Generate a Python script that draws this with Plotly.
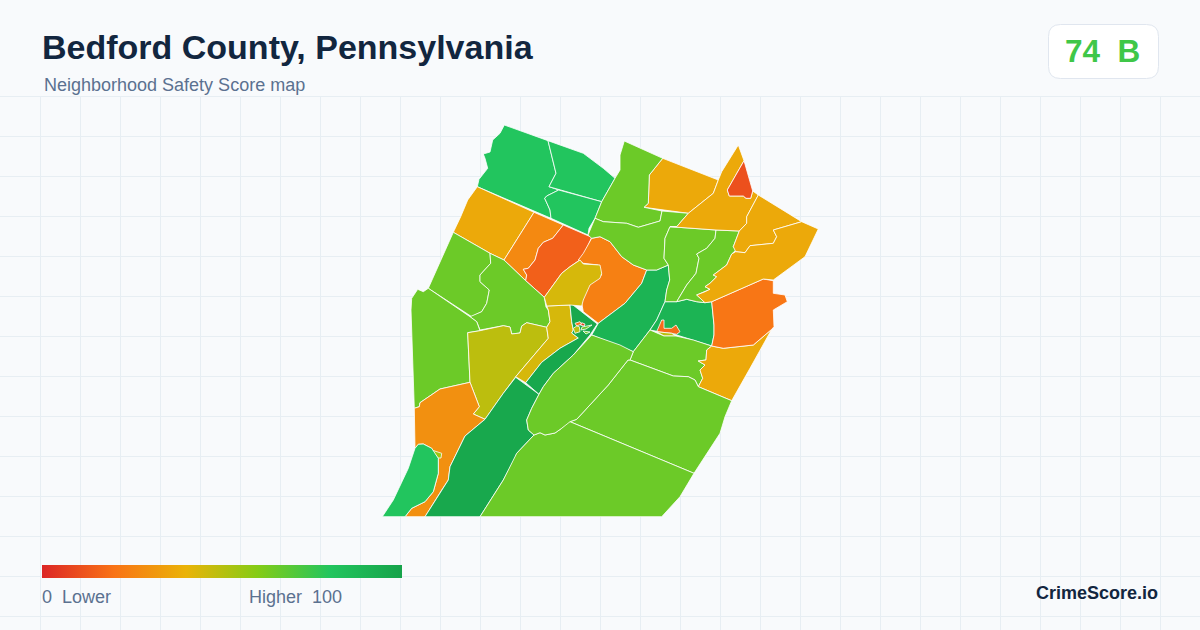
import plotly.graph_objects as go

title = "Bedford County, Pennsylvania"
subtitle = "Neighborhood Safety Score map"
score_text = "74  B"
brand = "CrimeScore.io"

legend_range = [0, 100]
score_stops = [0, 20, 40, 60, 80, 100]
score_colors = [(220, 38, 38), (249, 115, 22), (234, 179, 8), (132, 204, 22), (34, 197, 94), (22, 163, 74)]

grid_x = [0.5 + 40 * i for i in range(30)]
grid_y = [96.5 + 40 * i for i in range(14)]

# map outlines, x and y per tract with its score
tract_01_x = [504.3, 548, 556, 549, 558.7, 546.7, 544.7, 550, 551, 477.3, 479, 487.7, 485, 483.3, 490, 492.7, 500]
tract_01_y = [125, 140.7, 173.3, 186.7, 190, 196, 198.3, 210, 218.3, 186.7, 179.3, 168.3, 158.3, 154, 152, 140, 133.3]
tract_02_x = [548, 576.7, 583.3, 603.3, 615, 601.7, 558.7, 549, 556]
tract_02_y = [140.7, 150.7, 153.3, 168.3, 178.3, 201.7, 190, 186.7, 173.3]
tract_03_x = [558.7, 601.7, 595, 589, 588, 551, 550, 544.7, 546.7]
tract_03_y = [190, 201.7, 218.3, 228.3, 235, 218.3, 210, 198.3, 196]
tract_04_x = [477.3, 534, 504, 490, 453.3, 460.7, 467.7]
tract_04_y = [186.7, 212.3, 260, 253.3, 232.3, 216.7, 200]
tract_05_x = [534, 563.3, 552.7, 543.3, 538.3, 535, 528.3, 523.3, 526.7, 525.7, 504]
tract_05_y = [212.3, 225, 238.3, 242.3, 248.3, 260, 268.3, 269.3, 275, 280.7, 260]
tract_06_x = [563.3, 591.7, 582.3, 570, 561.7, 544.3, 525.7, 526.7, 523.3, 528.3, 535, 538.3, 543.3, 552.7]
tract_06_y = [225, 237.3, 258.3, 266.7, 273.3, 297.3, 280.7, 275, 269.3, 268.3, 260, 248.3, 242.3, 238.3]
tract_07_x = [453.3, 490, 490.7, 480, 480, 489.3, 486.7, 481.7, 471.7, 428.3]
tract_07_y = [232.3, 253.3, 263.3, 275, 281.7, 290, 303.3, 311.7, 316.7, 288.3]
tract_08_x = [490, 504, 525.7, 544.3, 546, 548.3, 550, 546.7, 526.7, 521.7, 520, 511.7, 510, 503.3, 480, 476.7, 470, 481.7, 486.7, 489.3, 480, 480, 490.7]
tract_08_y = [253.3, 260, 280.7, 297.3, 307, 310, 321.7, 327.3, 322.7, 326, 333, 334, 327, 325.7, 330, 321.7, 316.7, 311.7, 303.3, 290, 281.7, 275, 263.3]
tract_09_x = [428.3, 423.3, 417.7, 411.7, 411, 412.7, 414.3, 419.3, 420, 440, 470, 467.7, 480, 476.7, 470]
tract_09_y = [288.3, 291.7, 289.3, 298.3, 310, 353, 408.3, 406.7, 402.7, 389, 382.3, 332.7, 330.7, 321.7, 316.7]
tract_10_x = [467.7, 480, 503.3, 510, 511.7, 520, 521.7, 526.7, 546.7, 548.3, 515.7, 503.3, 485, 473.3, 479.3, 470]
tract_10_y = [332.7, 330.7, 325.7, 327, 334, 333, 326, 322.7, 327.3, 338.3, 376.7, 393.3, 419.3, 414, 406.7, 382.3]
tract_11_x = [414.3, 419.3, 420, 440, 470, 479.3, 473.3, 485, 465, 455, 450, 448.3, 441.7, 425, 405, 411.7, 425, 433.3, 438.3, 438.3, 431.7, 423.3, 418.3, 415]
tract_11_y = [408.3, 406.7, 402.7, 389, 382.3, 406.7, 414, 419.3, 436, 456.7, 466.7, 480, 490, 516.7, 516.7, 508.3, 501.7, 491.7, 473.3, 458.3, 448.3, 444, 444.3, 448.3]
tract_12_x = [431.7, 441.7, 441, 438]
tract_12_y = [450, 453.3, 458, 458]
tract_13_x = [415, 408.3, 393.3, 382.3, 405, 411.7, 425, 433.3, 438.3, 438.3, 431.7, 423.3, 418.3]
tract_13_y = [448.3, 468.3, 500, 516.7, 516.7, 508.3, 501.7, 491.7, 473.3, 458.3, 448.3, 444, 444.3]
tract_14_x = [515.7, 539, 531.7, 526.7, 528.3, 534, 516.7, 515, 503.3, 480, 425, 441.7, 448.3, 450, 455, 465, 485, 503.3]
tract_14_y = [377.3, 394.3, 408.3, 420, 430, 435, 453.3, 458.3, 480, 516.7, 516.7, 490, 480, 466.7, 456.7, 436, 419.3, 393.3]
tract_15_x = [546.7, 570, 571.7, 573.3, 571.7, 578.3, 560, 541.7, 525.7, 515.7, 548.3, 546.7, 550, 548.3]
tract_15_y = [306, 305, 321.7, 330, 333, 338, 348.3, 362.3, 382.7, 376.7, 338.3, 327.3, 321.7, 310]
tract_16_x = [525.7, 541.7, 560, 578.3, 571.7, 573.3, 571.7, 570, 571.7, 597.3, 590, 573.3, 553.3, 543.3, 539]
tract_16_y = [382.7, 362.3, 348.3, 338, 333, 330, 321.7, 305, 304, 324, 335, 355, 373.3, 386.7, 394.3]
tract_17_x = [575, 580, 581.7, 576.7]
tract_17_y = [323.3, 321.7, 324, 326]
tract_18_x = [581.7, 585, 584.3, 580.7]
tract_18_y = [322.7, 324, 326, 325.3]
tract_19_x = [573.3, 576.7, 579.3, 580, 575]
tract_19_y = [328.3, 326, 326.7, 331.7, 333.3]
tract_20_x = [591.7, 600, 610, 621.7, 633.3, 646.7, 641.7, 625, 598.3, 583.3, 581.7, 585, 591.7, 601.7, 598.3, 583.3, 578.3, 583.3]
tract_20_y = [238.3, 236.7, 241.7, 256.7, 265, 270, 283.3, 303.3, 323.3, 311.7, 303.3, 290, 280, 275, 265, 263.3, 260, 253.3]
tract_21_x = [580, 583.3, 600, 601.7, 600, 590, 583.3, 581.7, 570, 546.7, 544.3, 561.7, 570]
tract_21_y = [260, 264, 265, 273.3, 278.3, 285, 300, 306, 305, 306, 297.3, 273.3, 266.7]
tract_22_x = [598.3, 625, 641.7, 646.7, 656.7, 668.3, 669.7, 666.7, 665, 656.7, 650, 633.3, 591.7]
tract_22_y = [323.3, 303.3, 283.3, 270, 270, 265, 280, 290, 301.7, 320, 330, 351.7, 335]
tract_23_x = [665, 676.7, 686.7, 696.7, 705, 711.7, 714, 714, 711.7, 693.3, 676.7, 650, 656.7]
tract_23_y = [301.7, 301.7, 299.3, 301.7, 302.7, 301.7, 325, 335, 346, 340, 335, 330, 320]
tract_24_x = [661.7, 664, 664, 671.7, 676, 680, 676.7, 671.7, 656.7]
tract_24_y = [320, 320, 328.3, 328.3, 325, 331.7, 334.3, 333.3, 331.7]
tract_25_x = [656.7, 671.7, 676, 664]
tract_25_y = [331.7, 333.3, 336, 336]
tract_26_x = [650, 664, 676, 693.3, 711.7, 706.7, 706, 698.3, 705, 700, 702.7, 698.3, 695, 688.3, 673.3, 630, 633.3]
tract_26_y = [330, 336, 336, 340, 346, 350, 360, 361, 365, 370, 378.3, 386.7, 380, 376.7, 376, 360, 351.7]
tract_27_x = [711.7, 723.3, 753.3, 771.7, 750, 731.7, 698.3, 702.7, 700, 705, 698.3, 706, 706.7]
tract_27_y = [346, 348.3, 345, 329.3, 368.3, 400.7, 386.7, 378.3, 370, 365, 361, 360, 350]
tract_28_x = [711.7, 763.3, 773.3, 773.3, 785, 787.3, 773.3, 774, 771.7, 753.3, 723.3, 711.7, 714, 714]
tract_28_y = [301.7, 279, 280.7, 293.3, 295, 301.7, 310, 326.7, 329.3, 345, 348.3, 346, 335, 325]
tract_29_x = [630, 673.3, 688.3, 695, 698.3, 731.7, 725, 720, 694, 570, 576.7, 608.3, 628]
tract_29_y = [360, 376, 376.7, 380, 386.7, 400.7, 416.7, 433.3, 473.3, 421.7, 419.3, 385, 360]
tract_30_x = [534, 540, 545, 555, 561.7, 568.3, 570, 694, 680, 661.7, 480, 503.3, 516.7]
tract_30_y = [435, 432.7, 435, 433, 428.3, 421.7, 421.7, 473.3, 496.7, 516.7, 516.7, 480, 453.3]
tract_31_x = [539, 543.3, 553.3, 573.3, 591.7, 620, 633.3, 630, 628, 608.3, 576.7, 570, 561.7, 555, 545, 540, 534, 528.3, 526.7, 531.7]
tract_31_y = [394.3, 386.7, 373.3, 355, 335, 345, 351.7, 360, 360, 385, 419.3, 421.7, 428.3, 433, 435, 432.7, 435, 430, 420, 408.3]
tract_32_x = [662.7, 718.3, 713.3, 688.3, 644, 648.3, 649.3]
tract_32_y = [158.3, 180, 193.3, 213.3, 207.3, 203.3, 175]
tract_33_x = [624.3, 662.7, 649.3, 648.3, 644, 662, 660, 638.3, 626.7, 603.3, 595, 601.7, 615, 620, 620]
tract_33_y = [141, 158.3, 175, 203.3, 207.3, 211, 221, 227.3, 223.3, 221.7, 218.3, 201.7, 178.3, 170, 155]
tract_34_x = [595, 603.3, 626.7, 638.3, 660, 662, 688.3, 676.7, 670, 665, 664, 668.3, 656.7, 646.7, 633.3, 621.7, 610, 600, 591.7, 588]
tract_34_y = [218.3, 221.7, 223.3, 227.3, 221, 211, 213.3, 226.7, 226.7, 238.3, 258.3, 265, 270, 270, 265, 256.7, 241.7, 236.7, 238.3, 235]
tract_35_x = [670, 716, 715, 706.7, 696.7, 699, 696, 686.7, 676.7, 665, 666.7, 669.7, 668.3, 664, 665]
tract_35_y = [226.7, 230, 238.3, 248.3, 254, 258.3, 273.3, 285, 301.7, 301.7, 290, 280, 265, 258.3, 238.3]
tract_36_x = [716, 739.3, 733.3, 736, 731.7, 726.7, 713.3, 716.7, 710, 705, 710, 705, 696.7, 705, 696.7, 686.7, 676.7, 686.7, 696, 699, 696.7, 706.7, 715]
tract_36_y = [230, 231, 246.7, 250, 254, 265, 275, 276.7, 283.3, 286.7, 289.3, 291.7, 295, 302.7, 301.7, 299.3, 301.7, 285, 273.3, 258.3, 254, 248.3, 238.3]
tract_37_x = [718.3, 721.7, 738.3, 744, 727.3, 729.3, 743.3, 746, 750.7, 752.7, 758.3, 746.7, 746.7, 739.3, 716, 670, 676.7, 688.3, 713.3]
tract_37_y = [180, 171.7, 145, 160.7, 190, 196, 196, 198.3, 198.3, 191, 195, 216.7, 223.3, 231, 230, 226.7, 226.7, 213.3, 193.3]
tract_38_x = [744, 752.7, 750.7, 746, 743.3, 729.3, 727.3]
tract_38_y = [160.7, 191, 198.3, 198.3, 196, 196, 190]
tract_39_x = [758.3, 801.7, 773.3, 776.7, 773.3, 750, 745, 735.7, 733.3, 739.3, 746.7, 746.7]
tract_39_y = [195, 221.7, 230, 236.7, 243.3, 245.7, 252.7, 251.7, 246.7, 231, 223.3, 216.7]
tract_40_x = [801.7, 818.3, 805, 773.3, 763.3, 711.7, 705, 696.7, 705, 710, 705, 710, 716.7, 713.3, 726.7, 731.7, 735.7, 745, 750, 773.3, 776.7, 773.3]
tract_40_y = [221.7, 229, 256.7, 280, 279, 301.7, 302.7, 295, 291.7, 289.3, 286.7, 283.3, 276.7, 275, 265, 254, 251.7, 252.7, 245.7, 243.3, 236.7, 230]
tract_41_x = [582, 592, 586, 581]
tract_41_y = [327, 325, 329, 330]
tract_42_x = [583, 590, 586]
tract_42_y = [331, 332, 334]

tract_x = [tract_01_x, tract_02_x, tract_03_x, tract_04_x, tract_05_x, tract_06_x, tract_07_x, tract_08_x,
           tract_09_x, tract_10_x, tract_11_x, tract_12_x, tract_13_x, tract_14_x, tract_15_x, tract_16_x,
           tract_17_x, tract_18_x, tract_19_x, tract_20_x, tract_21_x, tract_22_x, tract_23_x, tract_24_x,
           tract_25_x, tract_26_x, tract_27_x, tract_28_x, tract_29_x, tract_30_x, tract_31_x, tract_32_x,
           tract_33_x, tract_34_x, tract_35_x, tract_36_x, tract_37_x, tract_38_x, tract_39_x, tract_40_x,
           tract_41_x, tract_42_x]
tract_y = [tract_01_y, tract_02_y, tract_03_y, tract_04_y, tract_05_y, tract_06_y, tract_07_y, tract_08_y,
           tract_09_y, tract_10_y, tract_11_y, tract_12_y, tract_13_y, tract_14_y, tract_15_y, tract_16_y,
           tract_17_y, tract_18_y, tract_19_y, tract_20_y, tract_21_y, tract_22_y, tract_23_y, tract_24_y,
           tract_25_y, tract_26_y, tract_27_y, tract_28_y, tract_29_y, tract_30_y, tract_31_y, tract_32_y,
           tract_33_y, tract_34_y, tract_35_y, tract_36_y, tract_37_y, tract_38_y, tract_39_y, tract_40_y,
           tract_41_y, tract_42_y]
tract_scores = [80, 80, 80, 37, 27, 15, 65, 65,
                65, 49, 29, 55, 80, 97, 44, 97,
                20, 8, 50, 24, 44, 90, 90, 18,
                50, 65, 37, 21, 65, 65, 65, 37,
                65, 65, 65, 65, 37, 11, 37, 37,
                65, 65]

bg = "#f8fafc"
grid_color = "#e7eef3"
title_color = "#12263f"
muted = "#5b7190"
font = "Liberation Sans"


def score_color(score):
    for i in range(len(score_stops) - 1):
        if score <= score_stops[i + 1]:
            t = (score - score_stops[i]) / (score_stops[i + 1] - score_stops[i])
            a, b = score_colors[i], score_colors[i + 1]
            return "rgb(%d,%d,%d)" % tuple(round(a[k] + (b[k] - a[k]) * t) for k in range(3))


fig = go.Figure()

for xs, ys, score in zip(tract_x, tract_y, tract_scores):
    fig.add_trace(go.Scatter(x=xs + xs[:1], y=ys + ys[:1], mode="lines", fill="toself", fillcolor=score_color(score),
                             line=dict(color="#ffffff", width=0.8), hoverinfo="skip", showlegend=False))

# legend bar, a colorbar on a marker trace that sits outside the axis range
bar_scale = [[s / 100, score_color(s)] for s in score_stops]
fig.add_trace(go.Scatter(x=[-50, -50], y=[-50, -50], mode="markers", hoverinfo="skip", showlegend=False,
                         marker=dict(color=legend_range, cmin=0, cmax=100, colorscale=bar_scale, opacity=0,
                                     colorbar=dict(orientation="h", x=42 / 1200, xanchor="left", y=1 - 565 / 630,
                                                   yanchor="top", thickness=13, len=360, lenmode="pixels",
                                                   xpad=0, ypad=0, outlinewidth=0, ticks="", showticklabels=False))))

# covers the grid behind the header
fig.add_shape(type="rect", x0=0, x1=1200, y0=0, y1=96, fillcolor=bg, line_width=0, layer="between")
fig.add_shape(type="path", path="M1060.5,24.5 H1146.5 Q1158.5,24.5 1158.5,36.5 V66.5 Q1158.5,78.5 1146.5,78.5 H1060.5 Q1048.5,78.5 1048.5,66.5 V36.5 Q1048.5,24.5 1060.5,24.5 Z",
              fillcolor="#ffffff", line=dict(color="#e0e6ef", width=1), layer="between")

fig.add_annotation(x=42, y=47, text="<b>" + title + "</b>", font=dict(size=34, color=title_color, family=font))
fig.add_annotation(x=44, y=85, text=subtitle, font=dict(size=18, color=muted, family=font))
fig.add_annotation(x=1065, y=51, text="<b>" + score_text + "</b>", font=dict(size=31.5, color=score_color(74), family=font))
fig.add_annotation(x=42, y=597, text="0  Lower", font=dict(size=18, color=muted, family=font))
fig.add_annotation(x=249, y=597, text="Higher  100", font=dict(size=18, color=muted, family=font))
fig.add_annotation(x=1158, y=593, text="<b>" + brand + "</b>", font=dict(size=18, color=title_color, family=font))
fig.update_annotations(xref="x", yref="y", xanchor="left", showarrow=False, borderpad=0, borderwidth=0)
fig.layout.annotations[-1].xanchor = "right"

fig.update_layout(width=1200, height=630, margin=dict(l=0, r=0, t=0, b=0), paper_bgcolor=bg, plot_bgcolor=bg,
                  showlegend=False)
fig.update_xaxes(range=[0, 1200], tickvals=grid_x, showticklabels=False, ticks="", showgrid=True, gridcolor=grid_color,
                 gridwidth=1, zeroline=False, showline=False, fixedrange=True)
fig.update_yaxes(range=[630, 0], tickvals=grid_y, showticklabels=False, ticks="", showgrid=True, gridcolor=grid_color,
                 gridwidth=1, zeroline=False, showline=False, fixedrange=True)

# page margin off so the figure fills the 1200x630 window
fig.write_html("out.html", config=dict(displayModeBar=False), post_script="document.body.style.margin='0';")
